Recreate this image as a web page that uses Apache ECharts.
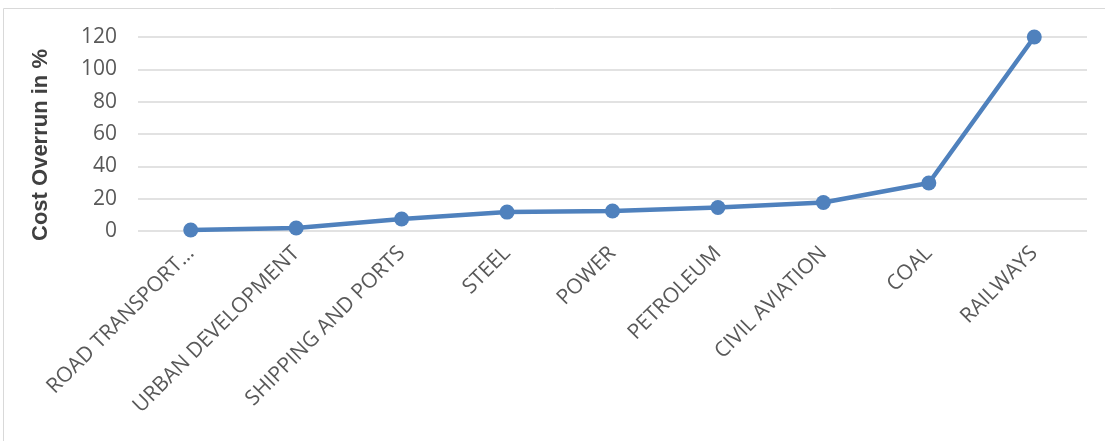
<!DOCTYPE html>
<html>
<head>
<meta charset="utf-8">
<script src="https://cdn.jsdelivr.net/npm/echarts@6/dist/echarts.min.js"></script>
<style>
  html, body { margin: 0; padding: 0; background: #fff; }
  #chart { width: 1105px; height: 441px; }
</style>
</head>
<body>
<div id="chart"></div>
<script>
  // 各部门名称（x轴）
  const sectors = [
    'ROAD TRANSPORT…', 'URBAN DEVELOPMENT', 'SHIPPING AND PORTS', 'STEEL',
    'POWER', 'PETROLEUM', 'CIVIL AVIATION', 'COAL', 'RAILWAYS'
  ]
  // 成本超支百分比
  const overrun = [0.6, 1.9, 7.4, 11.7, 12.4, 14.5, 17.6, 29.7, 120]
  const yTicks = [0, 20, 40, 60, 80, 100, 120]

  const chartDom = echarts.init(document.getElementById('chart'))
  chartDom.setOption({
    animation: false,
    graphic: [
      {
        type: 'rect',
        shape: { x: 3.5, y: 8.5, width: 1120, height: 460 },
        style: { fill: 'none', stroke: '#d9d9d9', lineWidth: 1 },
        silent: true
      }
    ],
    grid: { left: 138, right: 18, top: 37, bottom: 210 },
    xAxis: {
      type: 'category',
      data: sectors,
      axisTick: { show: false },
      axisLine: { show: false },
      axisLabel: {
        rotate: 45,
        interval: 0,
        margin: 19,
        color: '#595959',
        fontFamily: 'Open Sans',
        fontSize: 21
      }
    },
    yAxis: {
      type: 'value',
      min: yTicks[0],
      max: yTicks[yTicks.length - 1],
      interval: 20,
      name: 'Cost Overrun in %',
      nameLocation: 'middle',
      nameGap: 86,
      nameTextStyle: {
        color: '#404040',
        fontFamily: 'Liberation Sans Narrow, Liberation Sans',
        fontWeight: 'bold',
        fontSize: 22,
        padding: [0, 22, 0, 0]
      },
      axisLabel: {
        color: '#595959',
        fontFamily: 'Open Sans',
        fontSize: 21,
        margin: 21
      },
      splitLine: { lineStyle: { color: '#d9d9d9', width: 1.5 } }
    },
    series: [
      {
        type: 'line',
        data: overrun,
        symbol: 'circle',
        symbolSize: 15,
        lineStyle: { color: '#4f81bd', width: 4.5 },
        itemStyle: { color: '#4f81bd' }
      }
    ]
  })
</script>
</body>
</html>
